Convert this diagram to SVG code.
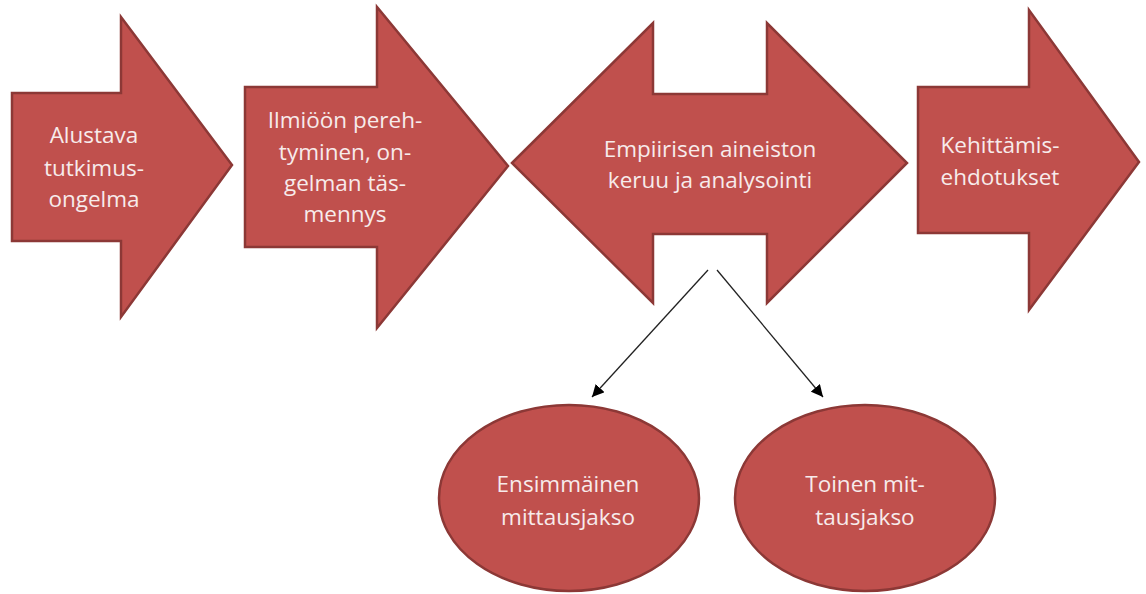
<svg xmlns="http://www.w3.org/2000/svg" width="1146" height="594" viewBox="0 0 1146 594">
<style>
.shape{fill:#c0504d;stroke:#8c3836;stroke-width:2.5;stroke-linejoin:miter}
.lbl{font-family:"Open Sans","Liberation Sans",sans-serif;font-size:22.5px;fill:#f7ebeb;text-anchor:middle}
.conn{stroke:#222;stroke-width:1.3;fill:none}
</style>
<defs>
<marker id="ah" viewBox="0 0 10 10" refX="10" refY="5" markerWidth="12" markerHeight="12" markerUnits="userSpaceOnUse" orient="auto">
<path d="M0,0 L10,5 L0,10 z" fill="#000"/>
</marker>
</defs>
<rect width="1146" height="594" fill="#fff"/>
<g id="node-alustava">
<polygon class="shape" points="12,93 121,93 121,17 232,165 121,317 121,241 12,241"/>
<text class="lbl"><tspan x="94" y="143">Alustava</tspan><tspan x="94" y="176">tutkimus-</tspan><tspan x="94" y="207">ongelma</tspan></text>
</g>
<g id="node-ilmioon">
<polygon class="shape" points="245,87 377,87 377,7 508,166 377,328 377,247 245,247"/>
<text class="lbl"><tspan x="345" y="128">Ilmiöön pereh-</tspan><tspan x="345" y="160">tyminen, on-</tspan><tspan x="345" y="191">gelman täs-</tspan><tspan x="345" y="222">mennys</tspan></text>
</g>
<g id="node-empiirisen">
<polygon class="shape" points="512,163 653,23 653,94 767,94 767,23 907,163 767,303 767,234 653,234 653,303"/>
<text class="lbl"><tspan x="710" y="157">Empiirisen aineiston</tspan><tspan x="710" y="188">keruu ja analysointi</tspan></text>
</g>
<g id="node-kehittamis">
<polygon class="shape" points="918,87 1029,87 1029,10 1139,162 1029,310 1029,233 918,233"/>
<text class="lbl"><tspan x="1000" y="153">Kehittämis-</tspan><tspan x="1000" y="185">ehdotukset</tspan></text>
</g>
<g id="node-ensimmainen">
<ellipse class="shape" cx="569" cy="498" rx="130" ry="93"/>
<text class="lbl"><tspan x="568" y="492">Ensimmäinen</tspan><tspan x="568" y="525">mittausjakso</tspan></text>
</g>
<g id="node-toinen">
<ellipse class="shape" cx="865" cy="498" rx="130" ry="93"/>
<text class="lbl"><tspan x="865" y="492">Toinen mit-</tspan><tspan x="865" y="525">tausjakso</tspan></text>
</g>
<g id="connectors">
<line class="conn" x1="708" y1="270" x2="592" y2="397" marker-end="url(#ah)"/>
<line class="conn" x1="717" y1="270" x2="823" y2="397" marker-end="url(#ah)"/>
</g>
</svg>
